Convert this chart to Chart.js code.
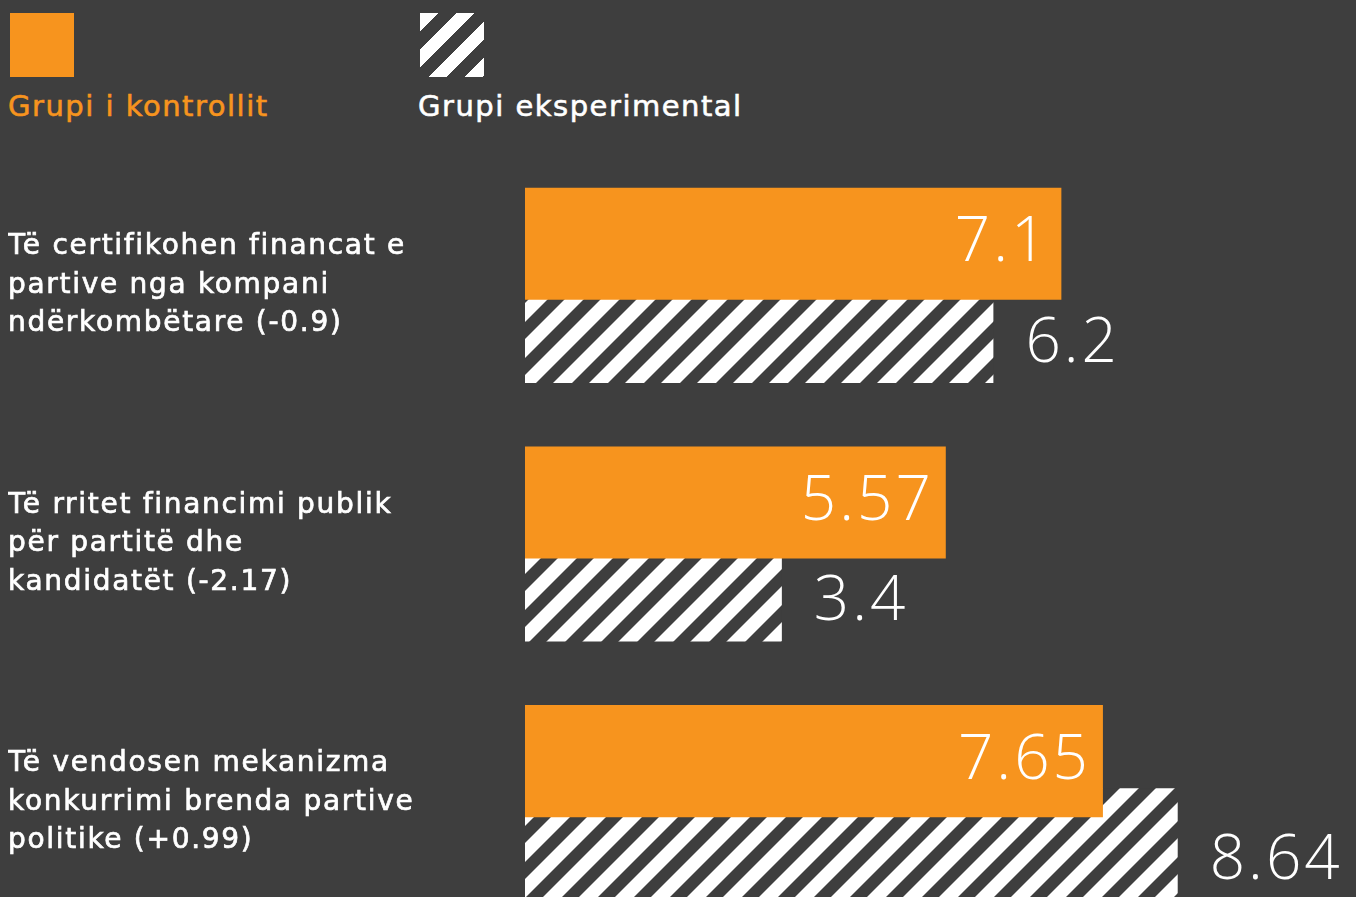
<!DOCTYPE html>
<html>
<head>
    <meta charset="UTF-8" />
    <title>Grupi i kontrollit vs Grupi eksperimental</title>
    <script src="https://cdn.jsdelivr.net/npm/chart.js"></script>
    <style>
        * {
            margin: 0;
            padding: 0;
            box-sizing: border-box;
        }

        body {
            background: #3e3e3e;
            width: 1356px;
            height: 897px;
            overflow: hidden;
            font-family: 'DejaVu Sans', sans-serif;
        }

        .legend {
            position: absolute;
            top: 0;
            left: 0;
            width: 1356px;
            height: 140px;
        }

        .legend-item {
            position: absolute;
            top: 13px;
        }

        .legend-box {
            width: 64px;
            height: 64px;
            margin-left: 2px;
        }

        .legend-text {
            margin-top: 12px;
            font-size: 29px;
            letter-spacing: 1.5px;
            -webkit-text-stroke: 0.6px currentColor;
            white-space: nowrap;
        }

        .box-control {
            background: #f7941e;
        }

        .box-experimental {
            background: repeating-linear-gradient(135deg, #ffffff 0 13px, #3e3e3e 13px 25.5px);
        }

        #chartWrap {
            position: absolute;
            top: 0;
            left: 0;
        }
    </style>
</head>
<body>

<!-- Legend -->
<div class="legend">
    <div class="legend-item" style="left: 8px;">
        <div class="legend-box box-control"></div>
        <div class="legend-text" style="color: #f7941e;">Grupi i kontrollit</div>
    </div>
    <div class="legend-item" style="left: 418px;">
        <div class="legend-box box-experimental"></div>
        <div class="legend-text" style="color: #ffffff;">Grupi eksperimental</div>
    </div>
</div>

<div id="chartWrap">
    <canvas id="barChart" width="1356" height="932"></canvas>
</div>

<script>
    // data
    const categories = [
        ['Të certifikohen financat e', 'partive nga kompani', 'ndërkombëtare (-0.9)'],
        ['Të rritet financimi publik', 'për partitë dhe', 'kandidatët (-2.17)'],
        ['Të vendosen mekanizma', 'konkurrimi brenda partive', 'politike (+0.99)']
    ];
    const controlValues = [7.1, 5.57, 7.65];
    const experimentalValues = [6.2, 3.4, 8.64];
    const seriesNames = ['Grupi i kontrollit', 'Grupi eksperimental'];

    const BG = '#3e3e3e';
    const ORANGE = '#f7941e';

    // diagonal white stripes for the experimental group
    function makeHatch() {
        const size = 36;
        const w = 19;
        const tile = document.createElement('canvas');
        tile.width = size;
        tile.height = size;
        const c = tile.getContext('2d');
        c.fillStyle = BG;
        c.fillRect(0, 0, size, size);
        c.fillStyle = '#ffffff';
        [-size, 0, size].forEach(off => {
            c.beginPath();
            c.moveTo(off, size);
            c.lineTo(off + w, size);
            c.lineTo(off + w + size, 0);
            c.lineTo(off + size, 0);
            c.closePath();
            c.fill();
        });
        return c.createPattern(tile, 'repeat');
    }

    const ctx = document.getElementById('barChart').getContext('2d');
    const hatch = makeHatch();

    // wider tracking for the category labels (closer to the original font)
    const tracking = {
        id: 'tracking',
        beforeDraw(chart) {
            chart.ctx.letterSpacing = '1.7px';
        }
    };

    // value labels: inside the orange bars, to the right of the hatched bars
    const valueLabels = {
        id: 'valueLabels',
        afterDatasetsDraw(chart) {
            const c = chart.ctx;
            c.save();
            c.font = '300 62px "Open Sans"';
            c.letterSpacing = '3px';
            c.fillStyle = '#ffffff';
            c.textBaseline = 'middle';

            chart.getDatasetMeta(0).data.forEach((bar, i) => {
                c.textAlign = 'right';
                c.fillText(String(controlValues[i]), bar.x - 12, bar.y);
            });
            chart.getDatasetMeta(1).data.forEach((bar, i) => {
                c.textAlign = 'left';
                c.fillText(String(experimentalValues[i]), bar.x + 32, bar.y + 17);
            });
            c.restore();
        }
    };

    new Chart(ctx, {
        type: 'bar',
        data: {
            labels: categories,
            datasets: [
                {
                    label: seriesNames[0],
                    data: controlValues,
                    backgroundColor: ORANGE,
                    borderWidth: 0,
                    categoryPercentage: 0.642,
                    barPercentage: 1.35
                },
                {
                    label: seriesNames[1],
                    data: experimentalValues,
                    backgroundColor: hatch,
                    borderWidth: 0,
                    categoryPercentage: 0.642,
                    barPercentage: 1.35
                }
            ]
        },
        options: {
            indexAxis: 'y',
            responsive: false,
            animation: false,
            layout: {
                padding: { top: 156, left: 8, right: 0, bottom: 0 }
            },
            scales: {
                x: {
                    display: false,
                    min: 0,
                    max: 11
                },
                y: {
                    grid: { display: false },
                    border: { display: false },
                    ticks: {
                        color: '#ffffff',
                        textStrokeColor: '#ffffff',
                        textStrokeWidth: 0.7,
                        crossAlign: 'far',
                        padding: 0,
                        font: { family: 'DejaVu Sans', size: 28, lineHeight: 1.375 }
                    },
                    afterFit(scale) {
                        scale.width = 517;
                        scale.paddingTop = 0;
                        scale.paddingBottom = 0;
                    }
                }
            },
            plugins: {
                legend: { display: false },
                tooltip: { enabled: false }
            }
        },
        plugins: [tracking, valueLabels]
    });
</script>

</body>
</html>
